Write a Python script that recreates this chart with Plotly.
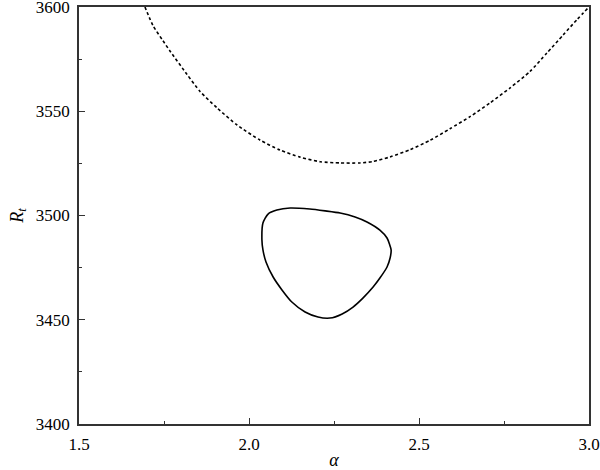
import plotly.graph_objects as go

# Dashed curve (upper bound)
curve_alpha = [1.694, 1.718, 1.747, 1.768, 1.818, 1.856, 1.906, 1.965, 2.032, 2.091, 2.150, 2.209, 2.268,
               2.326, 2.365, 2.415, 2.474, 2.532, 2.591, 2.650, 2.709, 2.768, 2.826, 2.876, 2.924, 2.965, 3.000]
curve_rt = [3600.0, 3591.0, 3583.8, 3578.8, 3567.6, 3559.5, 3551.6, 3543.4, 3536.2, 3531.4, 3528.0, 3525.8, 3525.2,
            3525.2, 3525.9, 3528.1, 3531.6, 3536.0, 3541.6, 3547.4, 3554.0, 3561.2, 3569.0, 3577.9, 3586.6, 3594.0, 3600.0]

# Closed contour
loop_alpha = [2.041, 2.056, 2.082, 2.121, 2.179, 2.224, 2.268, 2.312, 2.347, 2.385, 2.406, 2.418, 2.415,
              2.406, 2.385, 2.365, 2.335, 2.306, 2.274, 2.238, 2.203, 2.165, 2.126, 2.097, 2.071, 2.050,
              2.041, 2.038, 2.041]
loop_rt = [3496.4, 3500.7, 3502.6, 3503.6, 3503.1, 3502.2, 3501.2, 3499.3, 3496.9, 3493.0, 3489.2, 3483.5, 3479.6,
           3475.3, 3470.0, 3465.7, 3460.4, 3456.1, 3452.8, 3450.8, 3451.3, 3453.7, 3458.5, 3464.3, 3470.5, 3477.7,
           3483.5, 3488.3, 3496.4]

x_ticks = [1.5, 2.0, 2.5, 3.0]
x_tick_labels = ["1.5", "2.0", "2.5", "3.0"]
y_ticks = [3400, 3450, 3500, 3550, 3600]
y_tick_labels = ["3400", "3450", "3500", "3550", "3600"]

fig = go.Figure()
fig.add_trace(go.Scatter(x=curve_alpha, y=curve_rt, mode="lines",
                         line=dict(color="black", width=1.6, dash="3px,2.5px", shape="spline", smoothing=0.6),
                         showlegend=False, hoverinfo="skip"))
fig.add_trace(go.Scatter(x=loop_alpha, y=loop_rt, mode="lines",
                         line=dict(color="black", width=1.6, shape="spline", smoothing=0.6),
                         showlegend=False, hoverinfo="skip"))

font = dict(family="Liberation Serif, Times New Roman, serif", size=17, color="black")
axis_common = dict(showgrid=False, zeroline=False, showline=True, linecolor="#333333", linewidth=1.5,
                   mirror=True, ticks="inside", ticklen=6, tickwidth=1, tickcolor="#333333",
                   tickfont=font, automargin=False, ticklabeloverflow="allow", ticklabelstandoff=4)

fig.update_xaxes(range=[1.5, 3.0], tickvals=x_ticks, ticktext=x_tick_labels,
                 minor=dict(ticks="inside", ticklen=3, tickcolor="#333333", dtick=0.25, tick0=1.5),
                 title=dict(text="<i>α</i>", font=dict(family="Liberation Serif, serif", size=18), standoff=2),
                 **axis_common)
fig.update_yaxes(range=[3400, 3600], tickvals=y_ticks, ticktext=y_tick_labels,
                 minor=dict(ticks="inside", ticklen=3, tickcolor="#333333", dtick=25, tick0=3400),
                 title=dict(text="<i>R<sub>t</sub></i>", font=dict(family="Liberation Serif, serif", size=18), standoff=8),
                 **axis_common)

fig.update_layout(width=600, height=470, margin=dict(l=79, r=11, t=7, b=46),
                  plot_bgcolor="white", paper_bgcolor="white", font=font)

fig.write_html("out.html", config={"displayModeBar": False},
               post_script="document.body.style.margin='0';document.body.style.padding='0';")
